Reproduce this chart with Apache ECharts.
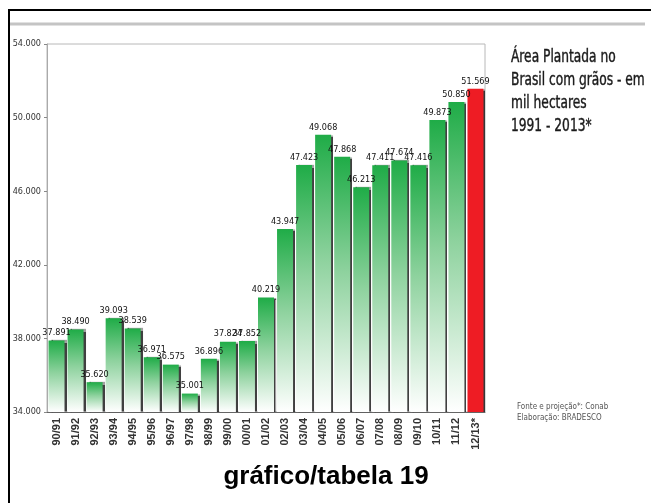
<!DOCTYPE html>
<html>
<head>
<meta charset="utf-8">
<script src="https://cdn.jsdelivr.net/npm/echarts@6/dist/echarts.min.js"></script>
<style>
html,body{margin:0;padding:0;background:#fff;}
#main{width:651px;height:503px;}
</style>
</head>
<body>
<div id="main"></div>
<script>
const categories = ["90/91","91/92","92/93","93/94","94/95","95/96","96/97","97/98","98/99","99/00","00/01","01/02","02/03","03/04","04/05","05/06","06/07","07/08","08/09","09/10","10/11","11/12","12/13*"];
const areaValues = [37891,38490,35620,39093,38539,36971,36575,35001,36896,37824,37852,40219,43947,47423,49068,47868,46213,47411,47674,47416,49873,50850,51569];
const projectedIndex = 22;
const yTicks = {min: 34000, max: 54000, interval: 4000};
const titleLines = ["Área Plantada no", "Brasil com grãos - em", "mil hectares", "1991 - 2013*"];
const sourceLines = ["Fonte e projeção*: Conab", "Elaboração: BRADESCO"];
const caption = "gráfico/tabela 19";

const NARROW = "'DejaVu Sans Condensed','Liberation Sans Narrow',sans-serif";
function fmt(v){ return v.toString().replace(/\B(?=(\d{3})+(?!\d))/g, '.'); }

const chart = echarts.init(document.getElementById('main'), null, {renderer:'canvas'});

const greenGrad = new echarts.graphic.LinearGradient(0,0,0,1,[
  {offset:0, color:'#1fac47'},
  {offset:0.45, color:'#8ed29e'},
  {offset:1, color:'#ffffff'}
]);

const barData = areaValues.map((v,i)=>({
  value: v,
  itemStyle: i === projectedIndex ? {color:'#ee1c24'} : {color: greenGrad}
}));

const graphics = [
  {type:'line', shape:{x1:8,y1:10,x2:651,y2:10}, style:{stroke:'#000', lineWidth:2}},
  {type:'line', shape:{x1:9,y1:10,x2:9,y2:503}, style:{stroke:'#000', lineWidth:2}},
  {type:'line', shape:{x1:10,y1:24,x2:645,y2:24}, style:{stroke:'#c4c4c4', lineWidth:3}},
  {type:'text', x:326, y:464, style:{text:caption, font:"bold 26px 'Liberation Sans', Arial, sans-serif", fill:'#000', textAlign:'center', textVerticalAlign:'top'}}
];
titleLines.forEach((t,i)=>{
  graphics.push({type:'text', x:511, y:49 + i*23, scaleX:0.8, style:{text:t, font:"17px " + NARROW, fill:'#1a1a1a', stroke:'#1a1a1a', lineWidth:0.4, textVerticalAlign:'top'}});
});
sourceLines.forEach((t,i)=>{
  graphics.push({type:'text', x:517, y:403 + i*11, style:{text:t, font:"8px " + NARROW, fill:'#555', textVerticalAlign:'top'}});
});

chart.setOption({
  animation:false,
  backgroundColor:'#fff',
  textStyle:{fontFamily:NARROW},
  grid:{left:47, right:166, top:44, bottom:91, show:true, borderColor:'#b8b8b8', borderWidth:1, containLabel:false},
  xAxis:{
    type:'category',
    data:categories,
    boundaryGap:true,
    axisLine:{lineStyle:{color:'#666', width:1}},
    axisTick:{show:false},
    axisLabel:{rotate:90, fontSize:11, fontWeight:'bold', color:'#333', margin:6, interval:0, fontFamily:"'Liberation Sans','DejaVu Sans',sans-serif"}
  },
  yAxis:{
    type:'value',
    min:yTicks.min, max:yTicks.max, interval:yTicks.interval,
    axisLine:{show:true, lineStyle:{color:'#aaa'}},
    axisTick:{show:true, length:3, lineStyle:{color:'#888'}},
    splitLine:{show:false},
    axisLabel:{fontSize:9, color:'#333', margin:6, formatter:(v)=>fmt(v)}
  },
  series:[{
    type:'bar',
    data:barData,
    barWidth:16,
    itemStyle:{shadowColor:'rgba(0,0,0,0.75)', shadowOffsetX:2, shadowOffsetY:0, shadowBlur:1},
    label:{show:true, position:'top', distance:3, fontSize:9, color:'#111', formatter:(p)=>fmt(p.value)}
  }],
  graphic:graphics
});
</script>
</body>
</html>
